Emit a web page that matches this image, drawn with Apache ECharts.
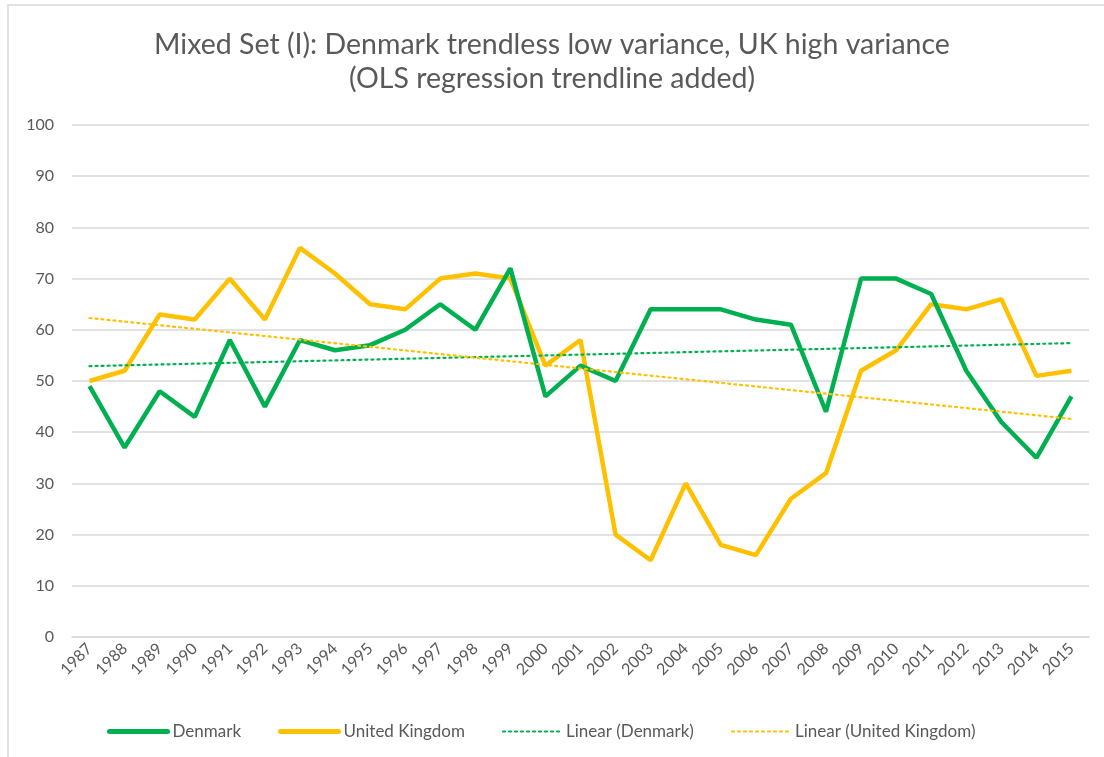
<!DOCTYPE html>
<html>
<head>
<meta charset="utf-8">
<script src="https://cdn.jsdelivr.net/npm/echarts@6/dist/echarts.min.js"></script>
<style>
	* { margin: 0; padding: 0; }
	body { background: #fff; }
	#main { width: 1104px; height: 757px; }
</style>
</head>
<body>
<div id="main"></div>
<script>
	var years = ['1987', '1988', '1989', '1990', '1991', '1992', '1993', '1994', '1995', '1996',
		'1997', '1998', '1999', '2000', '2001', '2002', '2003', '2004', '2005', '2006',
		'2007', '2008', '2009', '2010', '2011', '2012', '2013', '2014', '2015'];
	var denmark = [49, 37, 48, 43, 58, 45, 58, 56, 57, 60, 65, 60, 72, 47, 53, 50, 64, 64, 64, 62,
		61, 44, 70, 70, 67, 52, 42, 35, 47];
	var uk = [50, 52, 63, 62, 70, 62, 76, 71, 65, 64, 70, 71, 70, 53, 58, 20, 15, 30, 18, 16,
		27, 32, 52, 56, 65, 64, 66, 51, 52];
	// trendline end points (first and last year)
	var trendDenmark = [52.9, 57.4];
	var trendUK = [62.3, 42.6];

	function endPoints(ends) {
		var arr = years.map(function() { return null; });
		arr[0] = ends[0];
		arr[arr.length - 1] = ends[1];
		return arr;
	}

	var font = 'Lato';
	var grey = '#595959';

	var chart = echarts.init(document.getElementById('main'));
	chart.setOption({
		animation: false,
		textStyle: { fontFamily: font },
		title: {
			text: 'Mixed Set (I): Denmark trendless low variance, UK high variance\n(OLS regression trendline added)',
			left: 'center',
			top: 23,
			textStyle: { fontSize: 28.5, fontWeight: 'normal', color: grey, lineHeight: 34, fontFamily: font }
		},
		graphic: [{
			type: 'rect',
			shape: { x: 8, y: 5, width: 1200, height: 900 },
			style: { fill: 'none', stroke: '#d9d9d9', lineWidth: 1.5 },
			silent: true
		}],
		legend: {
			left: 102,
			top: 718,
			itemWidth: 58,
			itemHeight: 14,
			itemGap: 37,
			itemStyle: { opacity: 0 },
			textStyle: { fontSize: 17, color: grey, fontFamily: font },
			data: [
				{ name: 'Denmark', lineStyle: { width: 5, cap: 'round' } },
				{ name: 'United Kingdom', lineStyle: { width: 5, cap: 'round' } },
				{ name: 'Linear (Denmark)', lineStyle: { width: 2.2 } },
				{ name: 'Linear (United Kingdom)', lineStyle: { width: 2.2 } }
			]
		},
		grid: {
			left: 72,
			right: 15,
			top: 125,
			bottom: 120
		},
		xAxis: {
			type: 'category',
			data: years,
			boundaryGap: true,
			axisLine: { show: true, lineStyle: { color: '#d9d9d9', width: 1.5 } },
			axisTick: { show: false },
			axisLabel: { rotate: 45, fontSize: 16, color: grey, margin: 9, interval: 0 }
		},
		yAxis: {
			type: 'value',
			min: 0,
			max: 100,
			interval: 10,
			axisLine: { show: false },
			axisTick: { show: false },
			axisLabel: { fontSize: 16, color: grey, margin: 18 },
			splitLine: { lineStyle: { color: '#d9d9d9', width: 1.5 } }
		},
		series: [{
			name: 'Denmark',
			type: 'line',
			data: denmark,
			symbol: 'none',
			color: '#00b050',
			lineStyle: { width: 4.5, color: '#00b050' },
			z: 3
		}, {
			name: 'United Kingdom',
			type: 'line',
			data: uk,
			symbol: 'none',
			color: '#ffc000',
			lineStyle: { width: 4.5, color: '#ffc000' },
			z: 2
		}, {
			name: 'Linear (Denmark)',
			type: 'line',
			data: endPoints(trendDenmark),
			connectNulls: true,
			symbol: 'none',
			color: '#00b050',
			lineStyle: { width: 2.2, color: '#00b050', type: [2, 4], cap: 'round' },
			z: 4
		}, {
			name: 'Linear (United Kingdom)',
			type: 'line',
			data: endPoints(trendUK),
			connectNulls: true,
			symbol: 'none',
			color: '#ffc000',
			lineStyle: { width: 2.2, color: '#ffc000', type: [2, 4], cap: 'round' },
			z: 4
		}]
	});
</script>
</body>
</html>
